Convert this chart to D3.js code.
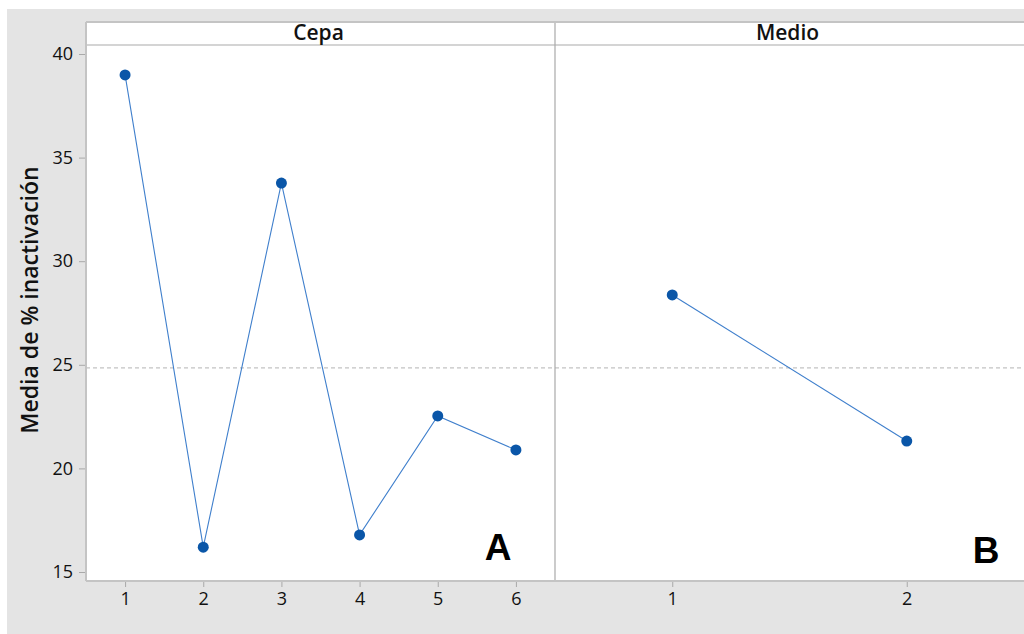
<!DOCTYPE html>
<html>
<head>
<meta charset="utf-8">
<script src="https://cdn.jsdelivr.net/npm/d3@7"></script>
<style>
  html, body { margin: 0; padding: 0; background: #ffffff; }
  svg { display: block; }
</style>
</head>
<body>
<svg id="chart" width="1024" height="634"></svg>
<script>
// Main effects: mean % inactivation per factor level
const cepaLevels = ["1", "2", "3", "4", "5", "6"];
const cepaMeans = [38.99, 16.2, 33.77, 16.79, 22.53, 20.89];
const medioLevels = ["1", "2"];
const medioMeans = [28.37, 21.32];
const grandMean = 24.85;
const yTicks = [15, 20, 25, 30, 35, 40];

const panels = [
  { title: "Cepa", levels: cepaLevels, values: cepaMeans, tag: "A", tagX: 498, tagY: 560 },
  { title: "Medio", levels: medioLevels, values: medioMeans, tag: "B", tagX: 986, tagY: 563 }
];

(function draw() {
  const svg = d3.select("#chart");
  const W = 1024, H = 634;

  // outer grey canvas
  svg.append("rect").attr("x", 7).attr("y", 9).attr("width", W - 7).attr("height", H - 9)
    .attr("fill", "#e4e4e4");

  const pLeft = 86, pTop = 22, stripH = 23, pBottom = 581, pRight = 1024;
  const plotTop = pTop + stripH;
  const panelW = (pRight - pLeft) / 2;

  const y = d3.scaleLinear().domain([15, 40]).range([572, 54]);

  // white plotting area
  svg.append("rect").attr("x", pLeft).attr("y", pTop).attr("width", pRight - pLeft)
    .attr("height", pBottom - pTop).attr("fill", "#ffffff");

  const lineCol = "#3f7fcc";
  const dotCol = "#0a56a8";
  const frameCol = "#a9a9a9";
  const font = "'Open Sans', 'Noto Sans', sans-serif";

  panels.forEach((p, i) => {
    const x0 = pLeft + i * panelW;
    const x = d3.scalePoint().domain(p.levels).range([x0, x0 + panelW]).padding(0.5);
    const g = svg.append("g");

    // reference line at the grand mean
    g.append("line").attr("x1", x0).attr("x2", x0 + panelW)
      .attr("y1", y(grandMean)).attr("y2", y(grandMean))
      .attr("stroke", "#b4b4b4").attr("stroke-width", 1).attr("stroke-dasharray", "4,3");

    // header strip
    g.append("line").attr("x1", x0).attr("x2", x0 + panelW)
      .attr("y1", plotTop).attr("y2", plotTop).attr("stroke", frameCol).attr("stroke-width", 1.2);
    g.append("text").attr("x", x0 + panelW / 2 - 2).attr("y", pTop + stripH / 2 + 1)
      .attr("text-anchor", "middle").attr("dominant-baseline", "middle")
      .attr("font-family", font).attr("font-weight", "600")
      .attr("font-size", 21).attr("fill", "#111").text(p.title);

    // x axis
    const xAxis = d3.axisBottom(x).tickSize(6).tickPadding(5);
    const ax = g.append("g").attr("transform", `translate(0,${pBottom})`).call(xAxis);
    ax.select(".domain").remove();
    ax.selectAll(".tick line").attr("stroke", frameCol);
    ax.selectAll(".tick text").attr("font-family", font)
      .attr("font-size", 18).attr("fill", "#111");

    // series
    const pts = p.levels.map((l, k) => [x(l), y(p.values[k])]);
    g.append("path").attr("d", d3.line()(pts)).attr("fill", "none")
      .attr("stroke", lineCol).attr("stroke-width", 1.1);
    g.selectAll("circle").data(pts).join("circle")
      .attr("cx", d => d[0]).attr("cy", d => d[1]).attr("r", 5.5)
      .attr("fill", dotCol);

    // panel tag
    g.append("text").attr("x", p.tagX).attr("y", p.tagY)
      .attr("text-anchor", "middle")
      .attr("font-family", "'Liberation Sans', Arial, sans-serif").attr("font-weight", "700")
      .attr("font-size", 37).attr("fill", "#000").text(p.tag);
  });

  // panel divider
  svg.append("line").attr("x1", pLeft + panelW).attr("x2", pLeft + panelW)
    .attr("y1", pTop).attr("y2", pBottom).attr("stroke", frameCol).attr("stroke-width", 1.2);

  // frame: top, left, bottom
  svg.append("line").attr("x1", pLeft).attr("x2", pRight).attr("y1", pTop).attr("y2", pTop)
    .attr("stroke", "#c4c4c4").attr("stroke-width", 2);
  svg.append("line").attr("x1", pLeft).attr("x2", pLeft).attr("y1", pTop).attr("y2", pBottom)
    .attr("stroke", "#c4c4c4").attr("stroke-width", 2);
  svg.append("line").attr("x1", pLeft).attr("x2", pRight).attr("y1", pBottom).attr("y2", pBottom)
    .attr("stroke", "#c4c4c4").attr("stroke-width", 2);

  // y axis
  const yAxis = d3.axisLeft(y).tickValues(yTicks).tickSize(6).tickPadding(6);
  const ay = svg.append("g").attr("transform", `translate(${pLeft - 1},0)`).call(yAxis);
  ay.select(".domain").remove();
  ay.selectAll(".tick line").attr("stroke", frameCol);
  ay.selectAll(".tick text").attr("font-family", font)
    .attr("font-size", 18).attr("fill", "#111");

  // y axis title
  svg.append("text").attr("transform", `translate(38,300) rotate(-90)`)
    .attr("text-anchor", "middle")
    .attr("font-family", font).attr("font-weight", "600")
    .attr("font-size", 23).attr("fill", "#111").text("Media de % inactivación");
})();
</script>
</body>
</html>
